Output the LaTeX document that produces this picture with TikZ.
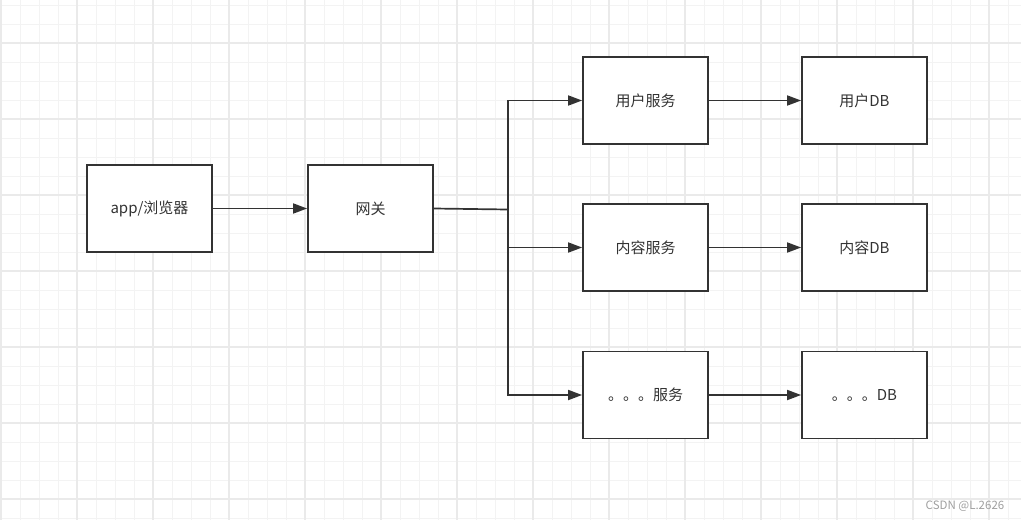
\documentclass[tikz,border=0pt]{standalone}
\usepackage{fontspec}
\setmainfont{Noto Sans CJK SC}
\usetikzlibrary{arrows.meta}
\definecolor{linegray}{HTML}{333333}
\definecolor{minorgray}{HTML}{F3F3F3}
\definecolor{majorgray}{HTML}{EAEAEA}

\begin{document}
\begin{tikzpicture}
  [x=1pt,y=-1pt,
   box/.style={rectangle,draw=linegray,line width=1.7pt,fill=white,
               minimum width=125pt,minimum height=87pt,inner sep=0pt,
               text=linegray,font=\fontsize{15}{18}\selectfont},
   link/.style={draw=linegray,line width=1.7pt,
                -{Triangle[length=14pt,width=10pt]}},
   minorline/.style={draw=minorgray,line width=0.9pt},
   majorline/.style={draw=majorgray,line width=1.3pt}]
  \useasboundingbox (0,0) rectangle (1021,520);
  % grid
  \foreach \i in {0,...,53}
    \draw[minorline] (1+19*\i,0) -- (1+19*\i,520);
  \foreach \i in {0,...,27}
    \draw[minorline] (0,5+19*\i) -- (1021,5+19*\i);
  \foreach \i in {0,...,13}
    \draw[majorline] (1+76*\i,0) -- (1+76*\i,520);
  \foreach \i in {0,...,6}
    \draw[majorline] (0,43+76*\i) -- (1021,43+76*\i);

  % boxes
  \node (app)     at (149.5,208.5) [box] {app/浏览器};
  \node (gateway) at (370.5,208.5) [box] {网关};
  \node (usersvc) at (645.5,100.5) [box] {用户服务};
  \node (textsvc) at (645.5,247.5) [box] {内容服务};
  \node (moresvc) at (645.5,395)   [box] {。。。服务};
  \node (userdb)  at (864.5,100.5) [box] {用户DB};
  \node (textdb)  at (864.5,247.5) [box] {内容DB};
  \node (moredb)  at (864.5,395)   [box] {。。。DB};
  \coordinate (split) at (508,209.5);

  % connectors
  \draw[link] (app) -- (gateway);
  \draw[draw=linegray,line width=1.7pt] (gateway.east) -- (split);
  \draw[link] (split) |- (usersvc.west);
  \draw[link] (split) |- (textsvc.west);
  \draw[link] (split) |- (moresvc.west);
  \draw[link] (usersvc) -- (userdb);
  \draw[link] (textsvc) -- (textdb);
  \draw[link] (moresvc) -- (moredb);

  \node (mark) at (965,506) [text=gray!75,font=\fontsize{11.5}{13}\selectfont] {CSDN @L.2626};
\end{tikzpicture}
\end{document}
